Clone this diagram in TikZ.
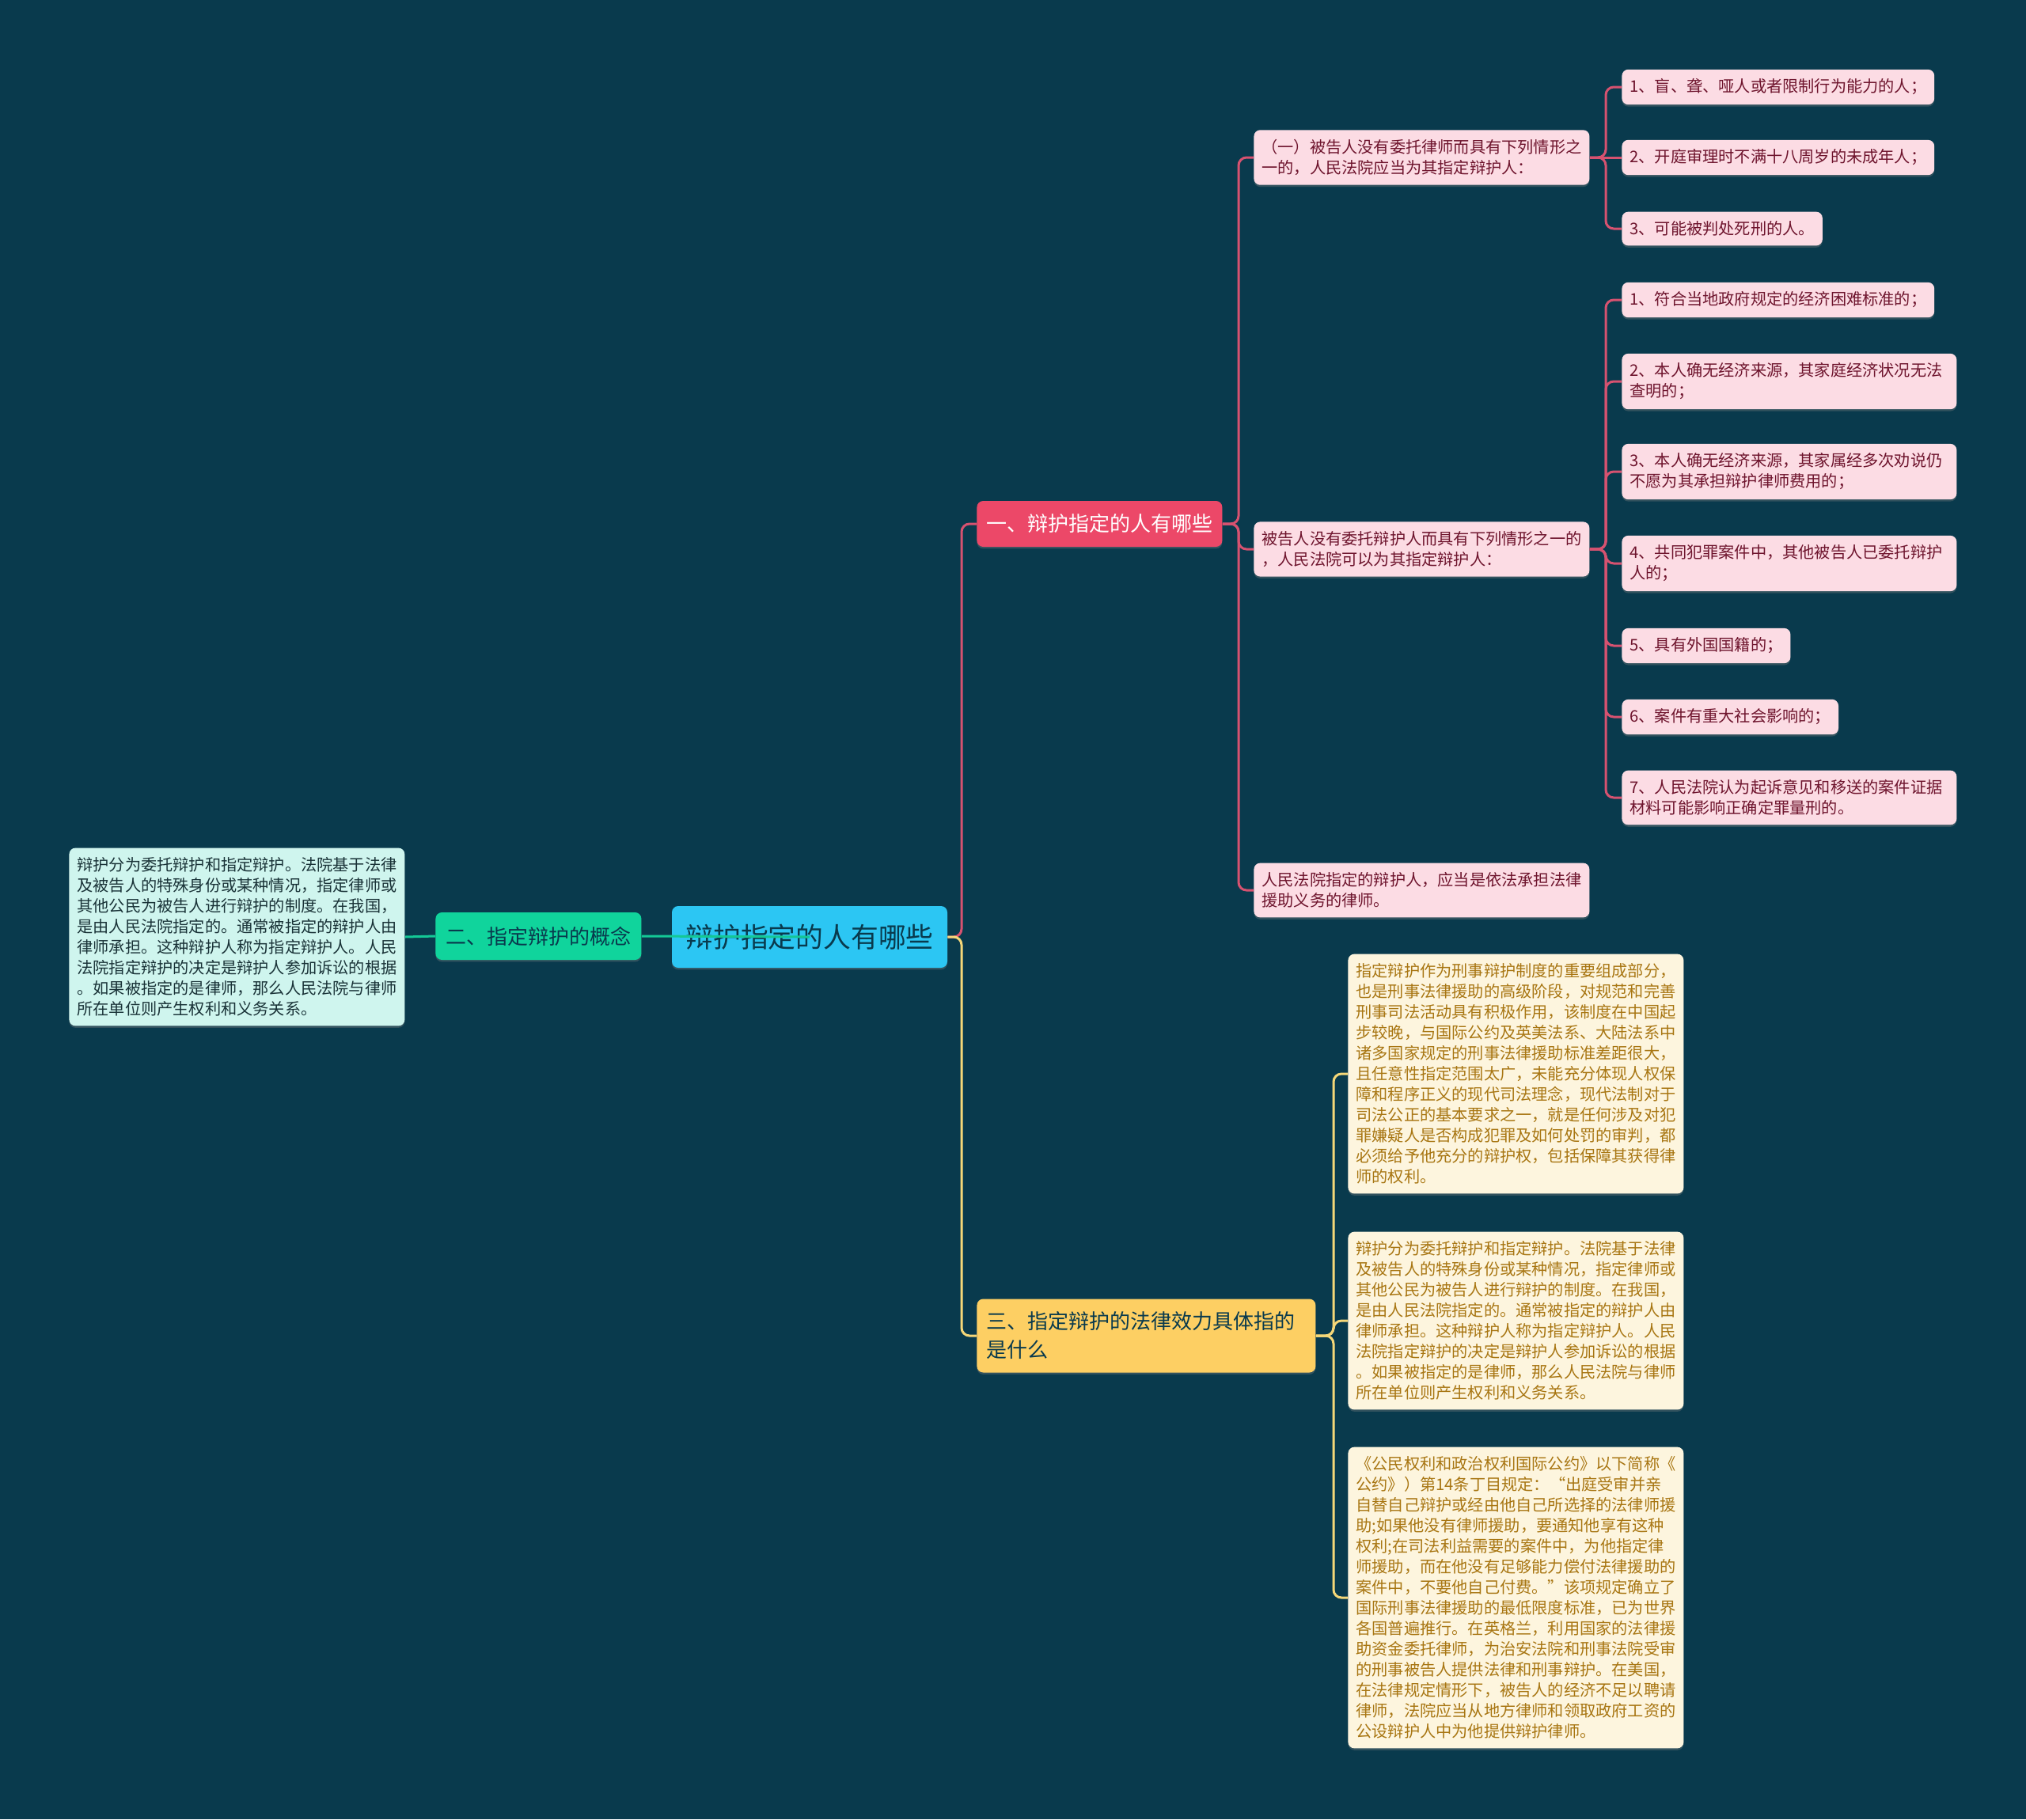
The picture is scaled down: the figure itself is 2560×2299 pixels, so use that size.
\documentclass[tikz,border=0pt]{standalone}
\usepackage{fontspec}
\usepackage{xcolor}
\usepackage{tikz}
\usetikzlibrary{shadows}
\newfontfamily\cjk{Noto Sans CJK SC}

\definecolor{bgteal}{RGB}{9,58,77}
\definecolor{rootcyan}{RGB}{44,198,243}
\definecolor{concgreen}{RGB}{16,212,156}
\definecolor{whored}{RGB}{236,72,104}
\definecolor{effyellow}{RGB}{253,207,99}
\definecolor{leafpink}{RGB}{252,220,228}
\definecolor{leafmint}{RGB}{207,245,238}
\definecolor{leafcream}{RGB}{253,245,222}
\definecolor{wine}{RGB}{110,20,45}
\definecolor{gold}{RGB}{168,118,18}
\definecolor{mintink}{RGB}{25,50,55}
\definecolor{redwirec}{RGB}{214,82,112}
\definecolor{yelwirec}{RGB}{245,215,120}
\definecolor{tealwirec}{RGB}{20,200,150}

\tikzset{
    box/.style={rounded corners=4pt, align=left, anchor=west, inner xsep=5pt, inner ysep=6pt,
        drop shadow={shadow xshift=0pt, shadow yshift=-1.2pt, opacity=.35}},
    small/.style={font=\cjk\fontsize{10.1}{13}\selectfont},
    pinkleaf/.style={box, small, fill=leafpink, text=wine, minimum height=21pt},
    wideleaf/.style={pinkleaf, text width=201.5pt},
    mintleaf/.style={box, small, fill=leafmint, text=mintink},
    creamleaf/.style={box, small, fill=leafcream, text=gold},
    topic/.style={box, font=\cjk\fontsize{13}{18}\selectfont, inner xsep=6pt},
    wire/.style={line width=1.5pt, rounded corners=5pt},
    redwire/.style={wire, redwirec},
    yelwire/.style={wire, yelwirec},
    tealwire/.style={wire, tealwirec},
}

\begin{document}
\begin{tikzpicture}[x=0.5pt, y=-0.5pt]
        % Background
        \fill[bgteal] (0,0) rectangle (2560,2299);

        % Root and first level
        \node[rootcyan, fill, text=bgteal, rounded corners=4pt, minimum width=174pt, minimum height=39pt,
            font=\cjk\fontsize{17.4}{20}\selectfont, drop shadow={shadow xshift=0pt, shadow yshift=-1.2pt, opacity=.35}]
            (root) at (1023,1184) {\textcolor{bgteal}{辩护指定的人有哪些}};
        \node[topic, fill=whored, text=white, minimum height=29pt] (who) at (1234,662) {一、辩护指定的人有哪些};
        \node[topic, fill=concgreen, text=bgteal, minimum height=30pt, inner xsep=6.5pt] (concept) at (550,1183) {二、指定辩护的概念};
        \node[topic, fill=effyellow, text=bgteal, minimum height=46.5pt, text width=202pt] (effect) at (1234,1688)
            {三、指定辩护的法律效力具体指的\\是什么};

        % Concept leaf
        \node[mintleaf] (basics) at (87,1184) {辩护分为委托辩护和指定辩护。法院基于法律\\及被告人的特殊身份或某种情况，指定律师或\\其他公民为被告人进行辩护的制度。在我国，\\是由人民法院指定的。通常被指定的辩护人由\\律师承担。这种辩护人称为指定辩护人。人民\\法院指定辩护的决定是辩护人参加诉讼的根据\\。如果被指定的是律师，那么人民法院与律师\\所在单位则产生权利和义务关系。};

        % Second level under who
        \node[pinkleaf] (must) at (1584,199) {（一）被告人没有委托律师而具有下列情形之\\一的，人民法院应当为其指定辩护人：};
        \node[pinkleaf] (may) at (1584,694) {被告人没有委托辩护人而具有下列情形之一的\\，人民法院可以为其指定辩护人：};
        \node[pinkleaf] (lawyer) at (1584,1125) {人民法院指定的辩护人，应当是依法承担法律\\援助义务的律师。};

        % Leaves of must
        \node[pinkleaf] (mustA) at (2049,110) {1、盲、聋、哑人或者限制行为能力的人；};
        \node[pinkleaf] (mustB) at (2049,199) {2、开庭审理时不满十八周岁的未成年人；};
        \node[pinkleaf] (mustC) at (2049,289) {3、可能被判处死刑的人。};

        % Leaves of may
        \node[pinkleaf] (mayA) at (2049,379) {1、符合当地政府规定的经济困难标准的；};
        \node[wideleaf] (mayB) at (2049,482) {2、本人确无经济来源，其家庭经济状况无法\\查明的；};
        \node[wideleaf] (mayC) at (2049,596) {3、本人确无经济来源，其家属经多次劝说仍\\不愿为其承担辩护律师费用的；};
        \node[wideleaf] (mayD) at (2049,712) {4、共同犯罪案件中，其他被告人已委托辩护\\人的；};
        \node[pinkleaf] (mayE) at (2049,816) {5、具有外国国籍的；};
        \node[pinkleaf] (mayF) at (2049,906) {6、案件有重大社会影响的；};
        \node[wideleaf] (mayG) at (2049,1008) {7、人民法院认为起诉意见和移送的案件证据\\材料可能影响正确定罪量刑的。};

        % Leaves of effect
        \node[creamleaf] (effA) at (1703,1357) {指定辩护作为刑事辩护制度的重要组成部分，\\也是刑事法律援助的高级阶段，对规范和完善\\刑事司法活动具有积极作用，该制度在中国起\\步较晚，与国际公约及英美法系、大陆法系中\\诸多国家规定的刑事法律援助标准差距很大，\\且任意性指定范围太广，未能充分体现人权保\\障和程序正义的现代司法理念，现代法制对于\\司法公正的基本要求之一，就是任何涉及对犯\\罪嫌疑人是否构成犯罪及如何处罚的审判，都\\必须给予他充分的辩护权，包括保障其获得律\\师的权利。};
        \node[creamleaf] (effB) at (1703,1669) {辩护分为委托辩护和指定辩护。法院基于法律\\及被告人的特殊身份或某种情况，指定律师或\\其他公民为被告人进行辩护的制度。在我国，\\是由人民法院指定的。通常被指定的辩护人由\\律师承担。这种辩护人称为指定辩护人。人民\\法院指定辩护的决定是辩护人参加诉讼的根据\\。如果被指定的是律师，那么人民法院与律师\\所在单位则产生权利和义务关系。};
        \node[creamleaf] (effC) at (1703,2019) {《公民权利和政治权利国际公约》以下简称《\\公约》）第14条丁目规定：“出庭受审并亲\\自替自己辩护或经由他自己所选择的法律师援\\助;如果他没有律师援助，要通知他享有这种\\权利;在司法利益需要的案件中，为他指定律\\师援助，而在他没有足够能力偿付法律援助的\\案件中，不要他自己付费。”该项规定确立了\\国际刑事法律援助的最低限度标准，已为世界\\各国普遍推行。在英格兰，利用国家的法律援\\助资金委托律师，为治安法院和刑事法院受审\\的刑事被告人提供法律和刑事辩护。在美国，\\在法律规定情形下，被告人的经济不足以聘请\\律师，法院应当从地方律师和领取政府工资的\\公设辩护人中为他提供辩护律师。};

        % Forks
        \coordinate (rootfork) at (1215,1184);
        \coordinate (whofork) at (1565,662);
        \coordinate (mustfork) at (2029,199);
        \coordinate (mayfork) at (2029,694);
        \coordinate (efffork) at (1685,1688);

        % Connectors
        \draw[redwire] (root.east) -- (rootfork) |- (who.west);
        \draw[yelwire] (root.east) -- (rootfork) |- (effect.west);
        \draw[tealwire] (root.center) -- (concept.east);
        \draw[tealwire] (concept.west) -- (basics.east);

        \draw[redwire] (who.east) -- (whofork) |- (must.west);
        \draw[redwire] (who.east) -- (whofork) |- (may.west);
        \draw[redwire] (who.east) -- (whofork) |- (lawyer.west);

        \draw[redwire] (must.east) -- (mustfork) |- (mustA.west);
        \draw[redwire] (must.east) -- (mustB.west);
        \draw[redwire] (must.east) -- (mustfork) |- (mustC.west);

        \draw[redwire] (may.east) -- (mayfork) |- (mayA.west);
        \draw[redwire] (may.east) -- (mayfork) |- (mayB.west);
        \draw[redwire] (may.east) -- (mayfork) |- (mayC.west);
        \draw[redwire] (may.east) -- (mayfork) |- (mayD.west);
        \draw[redwire] (may.east) -- (mayfork) |- (mayE.west);
        \draw[redwire] (may.east) -- (mayfork) |- (mayF.west);
        \draw[redwire] (may.east) -- (mayfork) |- (mayG.west);

        \draw[yelwire] (effect.east) -- (efffork) |- (effA.west);
        \draw[yelwire] (effect.east) -- (efffork) |- (effB.west);
        \draw[yelwire] (effect.east) -- (efffork) |- (effC.west);
    \end{tikzpicture}
\end{document}
